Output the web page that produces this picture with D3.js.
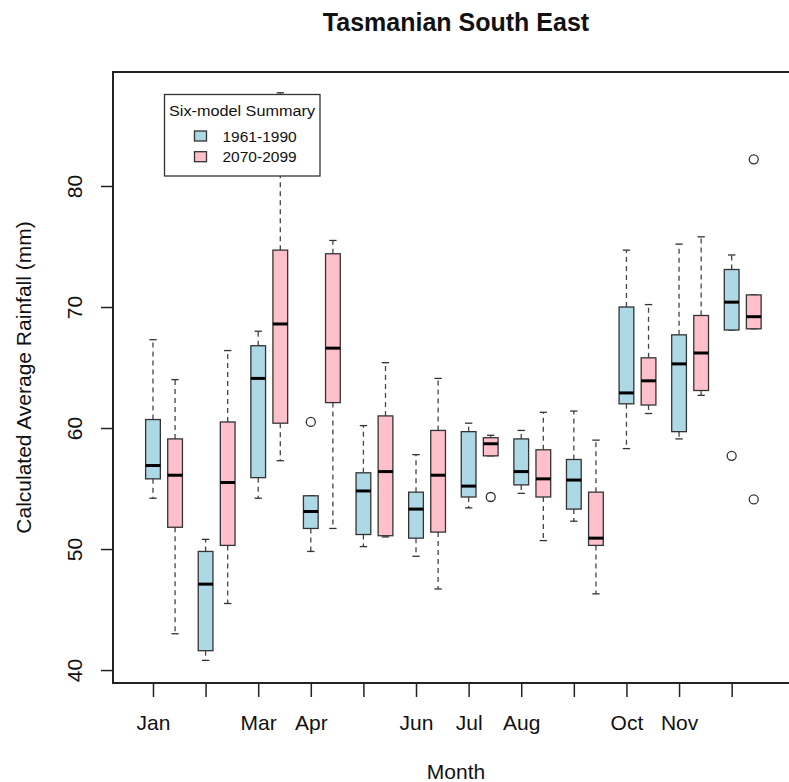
<!DOCTYPE html>
<html>
<head>
<meta charset="utf-8">
<script src="https://cdn.jsdelivr.net/npm/d3@7"></script>
<style>
  html, body { margin: 0; padding: 0; background: #fff; }
  svg { display: block; font-family: "Liberation Sans", Arial, Helvetica, sans-serif; }
</style>
</head>
<body>
<svg id="chart" width="789" height="782"></svg>
<script>
// Monthly rainfall box summaries for two periods: [lower whisker, Q1, median, Q3, upper whisker]
const months = ["Jan", "Feb", "Mar", "Apr", "May", "Jun", "Jul", "Aug", "Sep", "Oct", "Nov", "Dec"];
// Month labels that fit on the axis without overlapping
const shownMonthLabels = ["Jan", "Mar", "Apr", "Jun", "Jul", "Aug", "Oct", "Nov"];
const yTicks = [40, 50, 60, 70, 80];

const seriesNames = ["1961-1990", "2070-2099"];

const stats1961 = [
  [54.2, 55.8, 56.9, 60.7, 67.3],
  [40.8, 41.6, 47.1, 49.8, 50.8],
  [54.2, 55.9, 64.1, 66.8, 68.0],
  [49.8, 51.7, 53.1, 54.4, 54.4],
  [50.2, 51.2, 54.8, 56.3, 60.2],
  [49.4, 50.9, 53.3, 54.7, 57.8],
  [53.4, 54.3, 55.2, 59.7, 60.4],
  [54.6, 55.3, 56.4, 59.1, 59.8],
  [52.3, 53.3, 55.7, 57.4, 61.4],
  [58.3, 62.0, 62.9, 70.0, 74.7],
  [59.1, 59.7, 65.3, 67.7, 75.2],
  [68.1, 68.1, 70.4, 73.1, 74.3]
];
const outliers1961 = [[], [], [], [60.5], [], [], [], [], [], [], [], [57.7]];

const stats2070 = [
  [43.0, 51.8, 56.1, 59.1, 64.0],
  [45.5, 50.3, 55.5, 60.5, 66.4],
  [57.3, 60.4, 68.6, 74.7, 87.7],
  [51.7, 62.1, 66.6, 74.4, 75.5],
  [51.0, 51.1, 56.4, 61.0, 65.4],
  [46.7, 51.4, 56.1, 59.8, 64.1],
  [57.7, 57.7, 58.7, 59.2, 59.4],
  [50.7, 54.3, 55.8, 58.2, 61.3],
  [46.3, 50.3, 50.9, 54.7, 59.0],
  [61.2, 61.9, 63.9, 65.8, 70.2],
  [62.7, 63.1, 66.2, 69.3, 75.8],
  [68.2, 68.2, 69.2, 71.0, 71.0]
];
const outliers2070 = [[], [], [], [], [], [], [54.3], [], [], [], [], [82.2, 54.1]];

const fills = ["#ADD8E6", "#FFC0CB"];

// ---- layout ----
const plot = { left: 113, right: 799, top: 72, bottom: 683 };
const svg = d3.select("#chart");

// Month index 1..12; the later period sits just to the right of each month
const x = d3.scaleLinear().domain([0.24, 13.28]).range([plot.left, plot.right]);
const y = d3.scaleLinear().domain([38.93, 89.42]).range([plot.bottom, plot.top]);
const pairOffset = 0.42;
const boxW = x(1.28) - x(1);     // box width in px
const capW = boxW / 2;

const series = [
  { name: seriesNames[0], stats: stats1961, outliers: outliers1961, offset: 0, fill: fills[0] },
  { name: seriesNames[1], stats: stats2070, outliers: outliers2070, offset: pairOffset, fill: fills[1] }
];

const gBoxes = svg.append("g");

series.forEach(s => {
  s.stats.forEach((st, i) => {
    const cx = x(i + 1 + s.offset);
    const [lo, q1, med, q3, hi] = st;
    const g = gBoxes.append("g");
    // whiskers
    g.append("line").attr("x1", cx).attr("x2", cx).attr("y1", y(q3)).attr("y2", y(hi))
      .attr("stroke", "#444").attr("stroke-width", 1.3).attr("stroke-dasharray", "5,4");
    g.append("line").attr("x1", cx).attr("x2", cx).attr("y1", y(q1)).attr("y2", y(lo))
      .attr("stroke", "#444").attr("stroke-width", 1.3).attr("stroke-dasharray", "5,4");
    // staples
    [lo, hi].forEach(v => {
      g.append("line").attr("x1", cx - capW / 2).attr("x2", cx + capW / 2)
        .attr("y1", y(v)).attr("y2", y(v))
        .attr("stroke", "#333").attr("stroke-width", 1.3);
    });
    // box
    g.append("rect").attr("x", cx - boxW / 2).attr("width", boxW)
      .attr("y", y(q3)).attr("height", y(q1) - y(q3))
      .attr("fill", s.fill).attr("stroke", "#333").attr("stroke-width", 1.3);
    // median
    g.append("line").attr("x1", cx - boxW / 2).attr("x2", cx + boxW / 2)
      .attr("y1", y(med)).attr("y2", y(med))
      .attr("stroke", "#000").attr("stroke-width", 3);
    // outliers
    s.outliers[i].forEach(v => {
      g.append("circle").attr("cx", cx).attr("cy", y(v)).attr("r", 4.5)
        .attr("fill", "none").attr("stroke", "#333").attr("stroke-width", 1.3);
    });
  });
});

// ---- axes ----
const yAxis = d3.axisLeft(y).tickValues(yTicks).tickSize(12).tickPadding(0).tickFormat(d3.format("d"));
const gy = svg.append("g").attr("transform", `translate(${plot.left},0)`).call(yAxis);
gy.select(".domain").remove();
gy.selectAll(".tick line").attr("stroke", "#222").attr("stroke-width", 1.5);
gy.selectAll(".tick text")
  .attr("transform", null)
  .attr("x", null).attr("dy", null)
  .attr("text-anchor", "middle")
  .attr("font-size", 21).attr("fill", "#111")
  .attr("transform", "translate(-31,0) rotate(-90) translate(0,0)")
  .attr("y", 0);

const xAxis = d3.axisBottom(x)
  .tickValues(d3.range(1, 13))
  .tickSize(14).tickPadding(18)
  .tickFormat(d => shownMonthLabels.includes(months[d - 1]) ? months[d - 1] : "");
const gx = svg.append("g").attr("transform", `translate(0,${plot.bottom})`).call(xAxis);
gx.select(".domain").remove();
gx.selectAll(".tick line").attr("stroke", "#222").attr("stroke-width", 1.5);
gx.selectAll(".tick text").attr("font-size", 21).attr("fill", "#111").attr("dy", "0.71em");

// plot frame
svg.append("rect")
  .attr("x", plot.left).attr("y", plot.top)
  .attr("width", plot.right - plot.left).attr("height", plot.bottom - plot.top)
  .attr("fill", "none").attr("stroke", "#222").attr("stroke-width", 2);

// ---- titles ----
svg.append("text").attr("x", 456).attr("y", 31).attr("text-anchor", "middle")
  .attr("font-size", 25).attr("font-weight", "bold").attr("fill", "#111")
  .text("Tasmanian South East");

svg.append("text").attr("x", 456).attr("y", 779).attr("text-anchor", "middle")
  .attr("font-size", 21).attr("fill", "#111").text("Month");

svg.append("text")
  .attr("transform", `translate(31,${(plot.top + plot.bottom) / 2}) rotate(-90)`)
  .attr("text-anchor", "middle").attr("font-size", 21).attr("fill", "#111")
  .text("Calculated Average Rainfall (mm)");

// ---- legend ----
const lg = svg.append("g");
lg.append("rect").attr("x", 164.5).attr("y", 94.5).attr("width", 155.5).attr("height", 81.5)
  .attr("fill", "#fff").attr("stroke", "#333").attr("stroke-width", 1.3);
lg.append("text").attr("x", 242).attr("y", 116).attr("text-anchor", "middle")
  .attr("font-size", 15.5).attr("fill", "#111").attr("textLength", 146).attr("lengthAdjust", "spacingAndGlyphs")
  .text("Six-model Summary");
series.forEach((s, k) => {
  const yy = 131 + k * 20.7;
  lg.append("rect").attr("x", 194.5).attr("y", yy).attr("width", 12).attr("height", 10)
    .attr("fill", s.fill).attr("stroke", "#333").attr("stroke-width", 1.3);
  lg.append("text").attr("x", 222.5).attr("y", yy + 10.7)
    .attr("font-size", 15.5).attr("fill", "#111").text(s.name);
});
</script>
</body>
</html>
